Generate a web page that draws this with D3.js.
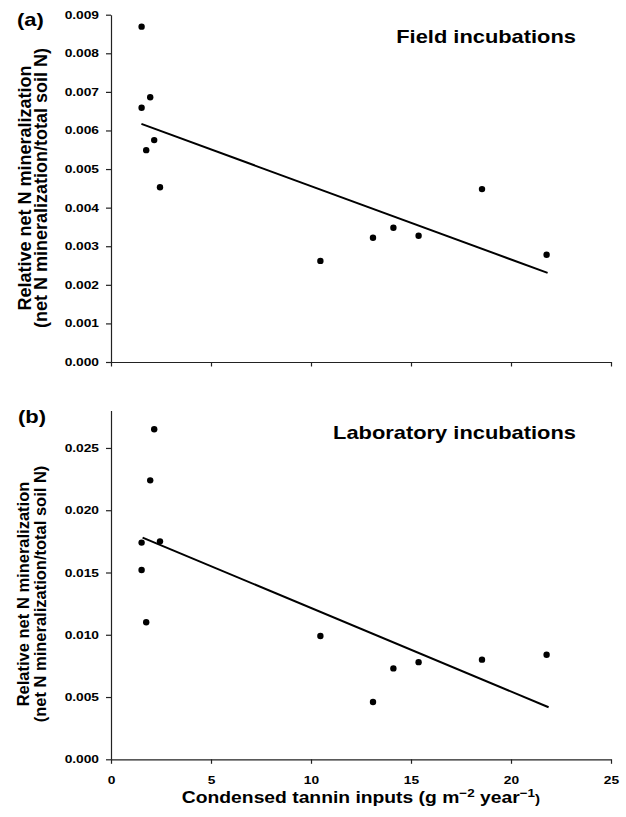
<!DOCTYPE html>
<html lang="en">
<head>
    <meta charset="UTF-8">
    <title>Relative net N mineralization vs condensed tannin inputs</title>
    <script src="https://d3js.org/d3.v7.min.js"></script>
    <style>
        body {
            margin: 0;
            background: #fff;
            font-family: "Liberation Sans", Arial, Helvetica, sans-serif;
        }
        svg text {
            font-weight: bold;
            fill: #000;
        }
        .axis path, .axis line {
            stroke: #222;
            stroke-width: 1.2;
        }
        .axis text {
            font-size: 11px;
            font-family: "Liberation Sans", Arial, Helvetica, sans-serif;
        }
    </style>
</head>
<body>
    <script>
        // condensed tannin inputs (g m-2 year-1), same plots in both panels
        const tanninInputs = [1.53, 1.53, 1.76, 1.96, 2.16, 2.45, 10.47, 13.1, 14.12, 15.38, 18.55, 21.78];
        // (a) field incubations
        const fieldN = [0.00869, 0.00659, 0.00549, 0.00686, 0.00575, 0.00453, 0.00262, 0.00322, 0.00348, 0.00327, 0.00448, 0.00278];
        const fieldFitX = [1.52, 21.83];
        const fieldFitY = [0.00617, 0.00231];
        // (b) laboratory incubations
        const labN = [0.0174, 0.0152, 0.0110, 0.0224, 0.0265, 0.0175, 0.0099, 0.0046, 0.0073, 0.0078, 0.0080, 0.0084];
        const labFitX = [1.58, 21.88];
        const labFitY = [0.0178, 0.00418];

        const xTicks = [0, 5, 10, 15, 20, 25];
        const fieldTicks = [0, 0.001, 0.002, 0.003, 0.004, 0.005, 0.006, 0.007, 0.008, 0.009];
        const labTicks = [0, 0.005, 0.010, 0.015, 0.020, 0.025];

        const W = 626, H = 817;
        const left = 111, right = 611;
        const stretch = 1.25; // the lettering in the figure is drawn wide

        const svg = d3.select("body").append("svg")
            .attr("width", W)
            .attr("height", H);

        const x = d3.scaleLinear().domain([0, 25]).range([left, right]);

        // widen horizontal text around its own x anchor
        function widen(sel, k) {
            sel.each(function () {
                const ax = +this.getAttribute("x") || 0;
                d3.select(this).attr("transform",
                    `translate(${ax},0) scale(${k},1) translate(${-ax},0)`);
            });
        }

        function drawPanel(p) {
            const y = d3.scaleLinear().domain(p.domain).range([p.bottom, p.top]);

            const yAxis = svg.append("g")
                .attr("class", "axis")
                .attr("transform", `translate(${left},0)`)
                .call(d3.axisLeft(y)
                    .tickValues(p.ticks)
                    .tickFormat(d3.format(".3f"))
                    .tickSize(5)
                    .tickSizeOuter(0)
                    .tickPadding(7));
            widen(yAxis.selectAll("text"), stretch);

            const xAxis = svg.append("g")
                .attr("class", "axis")
                .attr("transform", `translate(0,${p.bottom})`)
                .call(d3.axisBottom(x)
                    .tickValues(xTicks)
                    .tickSize(4.5)
                    .tickSizeOuter(0)
                    .tickPadding(12.5)
                    .tickFormat(p.xLabels ? d3.format("d") : () => ""));
            widen(xAxis.selectAll("text"), stretch);

            // regression line
            const fit = p.fitX.map((v, i) => [v, p.fitY[i]]);
            svg.append("path")
                .datum(fit)
                .attr("fill", "none")
                .attr("stroke", "#000")
                .attr("stroke-width", 2)
                .attr("d", d3.line().x(d => x(d[0])).y(d => y(d[1])));

            svg.append("g")
                .selectAll("circle")
                .data(tanninInputs.map((v, i) => [v, p.values[i]]))
                .enter()
                .append("circle")
                .attr("cx", d => x(d[0]))
                .attr("cy", d => y(d[1]))
                .attr("r", 3.2)
                .attr("fill", "#000");

            // panel letter
            svg.append("text")
                .attr("x", p.letterX)
                .attr("y", p.letterY)
                .style("font-size", "18px")
                .text(p.letter)
                .call(widen, 1.22);

            // panel title
            svg.append("text")
                .attr("x", 576)
                .attr("y", p.titleY)
                .attr("text-anchor", "end")
                .style("font-size", "17.5px")
                .text(p.title)
                .call(widen, stretch);

            // y axis title, two lines
            const yt = svg.append("g")
                .attr("transform", `translate(0,${p.yTitleMid})`);
            yt.append("text")
                .attr("transform", `translate(${p.yLine1},0) rotate(-90)`)
                .attr("text-anchor", "middle")
                .style("font-size", p.yTitleSize + "px")
                .text("Relative net N mineralization");
            yt.append("text")
                .attr("transform", `translate(${p.yLine2},0) rotate(-90)`)
                .attr("text-anchor", "middle")
                .style("font-size", p.yTitleSize + "px")
                .text("(net N mineralization/total soil N)");
        }

        drawPanel({
            domain: [0, 0.009], ticks: fieldTicks, top: 14.7, bottom: 362,
            values: fieldN, fitX: fieldFitX, fitY: fieldFitY, xLabels: false,
            letter: "(a)", letterX: 17, letterY: 26,
            title: "Field incubations", titleY: 43,
            yTitleMid: 188, yLine1: 30.5, yLine2: 47, yTitleSize: 18
        });

        drawPanel({
            domain: [0, 0.028], ticks: labTicks, top: 410.6, bottom: 759.3,
            values: labN, fitX: labFitX, fitY: labFitY, xLabels: true,
            letter: "(b)", letterX: 18, letterY: 423,
            title: "Laboratory incubations", titleY: 439,
            yTitleMid: 594, yLine1: 28.5, yLine2: 46, yTitleSize: 16.5
        });

        // x axis title with superscripts
        const xt = svg.append("text")
            .attr("x", 361)
            .attr("y", 803)
            .attr("text-anchor", "middle")
            .style("font-size", "16.5px");
        xt.append("tspan").text("Condensed tannin inputs (g m");
        xt.append("tspan").attr("dy", -6).style("font-size", "11.5px").text("\u22122");
        xt.append("tspan").attr("dy", 6).text(" year");
        xt.append("tspan").attr("dy", -6).style("font-size", "11.5px").text("\u22121");
        xt.append("tspan").attr("dy", 6).style("font-size", "13px").text(")");
        widen(xt, 1.17);
    </script>
</body>
</html>
